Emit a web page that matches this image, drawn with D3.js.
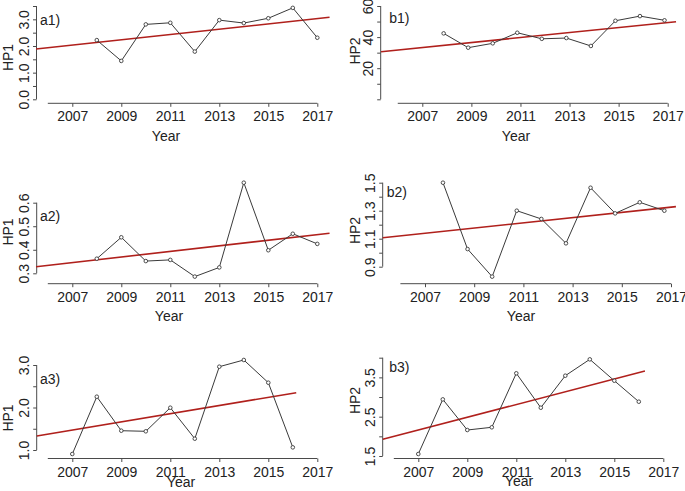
<!DOCTYPE html>
<html>
<head>
<meta charset="utf-8">
<script src="https://cdn.jsdelivr.net/npm/d3@7"></script>
<style>
  html, body { margin: 0; padding: 0; background: #fff; }
  svg { display: block; font-family: "Liberation Sans", Arial, Helvetica, sans-serif; }
</style>
</head>
<body>
<svg id="chart" width="685" height="491"></svg>
<script>
// ---------------- DATA ----------------
const panelIds = ["a1", "b1", "a2", "b2", "a3", "b3"];
const panelLabels = ["a1)", "b1)", "a2)", "b2)", "a3)", "b3)"];
const yTitles = ["HP1", "HP2", "HP1", "HP2", "HP1", "HP2"];
const xTitle = "Year";

const xTickYears = [2007, 2009, 2011, 2013, 2015, 2017];

const a1Years  = [2008, 2009, 2010, 2011, 2012, 2013, 2014, 2015, 2016, 2017];
const a1Values = [2.22, 1.44, 2.81, 2.87, 1.79, 2.97, 2.86, 3.04, 3.43, 2.31];

const b1Years  = [2007.87, 2008.87, 2009.87, 2010.87, 2011.87, 2012.87, 2013.87, 2014.87, 2015.87, 2016.87];
const b1Values = [42.4, 33.2, 36.0, 42.8, 38.9, 39.4, 34.3, 50.5, 53.5, 50.8];

const a2Years  = [2008, 2009, 2010, 2011, 2012, 2013, 2014, 2015, 2016, 2017];
const a2Values = [0.362, 0.453, 0.352, 0.357, 0.286, 0.325, 0.685, 0.398, 0.468, 0.425];

const b2Years  = [2007.73, 2008.73, 2009.73, 2010.73, 2011.73, 2012.73, 2013.73, 2014.73, 2015.73, 2016.73];
const b2Values = [1.50, 1.026, 0.829, 1.30, 1.241, 1.067, 1.464, 1.281, 1.36, 1.30];

const a3Years  = [2007, 2008, 2009, 2010, 2011, 2012, 2013, 2014, 2015, 2016];
const a3Values = [0.906, 2.254, 1.454, 1.44, 1.995, 1.266, 2.96, 3.118, 2.584, 1.062];

const b3Years  = [2007, 2008, 2009, 2010, 2011, 2012, 2013, 2014, 2015, 2016];
const b3Values = [1.551, 2.94, 2.161, 2.23, 3.603, 2.728, 3.542, 3.958, 3.415, 2.881];

// fitted trend lines: start/end year and value
const trendStartYear  = [2005.52, 2005.32, 2005.52, 2005.28, 2005.55, 2005.55];
const trendStartValue = [1.886, 30.6, 0.328, 1.107, 1.329, 1.924];
const trendEndYear    = [2017.5, 2017.34, 2017.5, 2017.2, 2016.14, 2016.25];
const trendEndValue   = [3.075, 49.9, 0.470, 1.329, 2.348, 3.661];

// y-axis ticks and which are labelled
const yTicks = [
  [0, 0.5, 1, 1.5, 2, 2.5, 3, 3.5],
  [0, 10, 20, 30, 40, 50, 60],
  [0.3, 0.4, 0.5, 0.6],
  [0.9, 1.0, 1.1, 1.2, 1.3, 1.4, 1.5],
  [1, 1.5, 2, 2.5, 3],
  [1.5, 2, 2.5, 3, 3.5, 4]
];
const yTickLabels = [
  ["0.0", "", "1.0", "", "2.0", "", "3.0", ""],
  ["", "", "20", "", "40", "", "60"],
  ["0.3", "0.4", "0.5", "0.6"],
  ["0.9", "", "1.1", "", "1.3", "", "1.5"],
  ["1.0", "", "2.0", "", "3.0"],
  ["1.5", "", "2.5", "", "3.5", ""]
];

const seriesYears  = [a1Years, b1Years, a2Years, b2Years, a3Years, b3Years];
const seriesValues = [a1Values, b1Values, a2Values, b2Values, a3Values, b3Values];

// ---------------- LAYOUT (pixels) ----------------
const layout = [
  { x07: 72.3, x17: 317.3, yd: [0, 3.5],   yr: [99.3, 6.0],    axisY: 103.3, axisX: 36.5,  labX: 40,    labY: 25,    ytY: 57.5, ytX: 12.7, xtX: 166, xtY: 140.7 },
  { x07: 422.3, x17: 667.7, yd: [0, 60],   yr: [99.3, 6.0],    axisY: 103.3, axisX: 380.7, labX: 389.3, labY: 23,    ytY: 51,   ytX: 360,  xtX: 516, xtY: 140.7 },
  { x07: 72.3, x17: 317.3, yd: [0.3, 0.6], yr: [273.3, 202.7], axisY: 283.7, axisX: 36.7,  labX: 40,    labY: 220.5, ytY: 232,  ytX: 12.7, xtX: 169, xtY: 321 },
  { x07: 425, x17: 671,    yd: [0.9, 1.5], yr: [266.7, 182.7], axisY: 283.7, axisX: 382.7, labX: 386.7, labY: 196.5, ytY: 230.5, ytX: 360, xtX: 521, xtY: 320.5 },
  { x07: 72.3, x17: 317.3, yd: [1, 3],     yr: [450, 365],     axisY: 458.5, axisX: 36.7,  labX: 40,    labY: 384,   ytY: 418,  ytX: 12.7, xtX: 181, xtY: 487 },
  { x07: 418.3, x17: 663.3, yd: [1.5, 4],  yr: [456, 357.7],   axisY: 458.5, axisX: 382.7, labX: 389.3, labY: 372,   ytY: 400.5, ytX: 360, xtX: 519, xtY: 486 }
];

const svg = d3.select("#chart");
const axisColor = "#4a4a4a";
const textColor = "#222";
const fontSize = 14;

panelIds.forEach((id, i) => {
  const L = layout[i];
  const x = d3.scaleLinear().domain([2007, 2017]).range([L.x07, L.x17]);
  const y = d3.scaleLinear().domain(L.yd).range(L.yr);
  const g = svg.append("g").attr("id", id);

  // X axis
  const xa = g.append("g").attr("transform", `translate(0,${L.axisY})`)
    .call(d3.axisBottom(x).tickValues(xTickYears).tickFormat(d3.format("d")).tickSize(3.5).tickSizeOuter(0));
  xa.select(".domain").remove();
  xa.append("line").attr("x1", x(2006)).attr("x2", x(2017)).attr("y1", 0).attr("y2", 0)
    .attr("stroke", axisColor).attr("stroke-width", 1);
  xa.selectAll(".tick line").attr("stroke", axisColor);
  xa.selectAll(".tick text").attr("y", 18).attr("dy", 0)
    .attr("fill", textColor).style("font-size", fontSize + "px").style("font-family", "Liberation Sans, Arial, sans-serif");

  // Y axis
  const ticks = yTicks[i], labs = yTickLabels[i];
  const ya = g.append("g").attr("transform", `translate(${L.axisX},0)`)
    .call(d3.axisLeft(y).tickValues(ticks).tickFormat((d, k) => labs[k]).tickSize(3.5).tickSizeOuter(0));
  ya.select(".domain").remove();
  ya.append("line").attr("x1", 0).attr("x2", 0).attr("y1", y(ticks[0])).attr("y2", y(ticks[ticks.length - 1]))
    .attr("stroke", axisColor).attr("stroke-width", 1);
  ya.selectAll(".tick line").attr("stroke", axisColor);
  ya.selectAll(".tick text")
    .attr("transform", "rotate(-90)")
    .attr("x", 0).attr("y", -8).attr("dy", 0)
    .attr("text-anchor", "middle")
    .attr("fill", textColor).style("font-size", fontSize + "px").style("font-family", "Liberation Sans, Arial, sans-serif");

  // Axis titles
  g.append("text").attr("x", L.xtX).attr("y", L.xtY).attr("text-anchor", "middle")
    .attr("fill", textColor).style("font-size", fontSize + "px").text(xTitle);
  g.append("text").attr("transform", `translate(${L.ytX},${L.ytY}) rotate(-90)`).attr("text-anchor", "middle")
    .attr("fill", textColor).style("font-size", fontSize + "px").text(yTitles[i]);

  // Panel label
  g.append("text").attr("x", L.labX).attr("y", L.labY)
    .attr("fill", textColor).style("font-size", fontSize + "px").text(panelLabels[i]);

  // Trend line
  g.append("line")
    .attr("x1", x(trendStartYear[i])).attr("y1", y(trendStartValue[i]))
    .attr("x2", x(trendEndYear[i])).attr("y2", y(trendEndValue[i]))
    .attr("stroke", "#b0201c").attr("stroke-width", 1.6);

  // Series
  const pts = seriesYears[i].map((yr, k) => [yr, seriesValues[i][k]]);
  g.append("path").datum(pts)
    .attr("d", d3.line().x(d => x(d[0])).y(d => y(d[1])))
    .attr("fill", "none").attr("stroke", "#3a3a3a").attr("stroke-width", 1);
  g.selectAll("circle.pt").data(pts).enter().append("circle")
    .attr("class", "pt")
    .attr("cx", d => x(d[0])).attr("cy", d => y(d[1])).attr("r", 1.8)
    .attr("fill", "#fff").attr("stroke", "#3a3a3a").attr("stroke-width", 0.9);
});
</script>
</body>
</html>
